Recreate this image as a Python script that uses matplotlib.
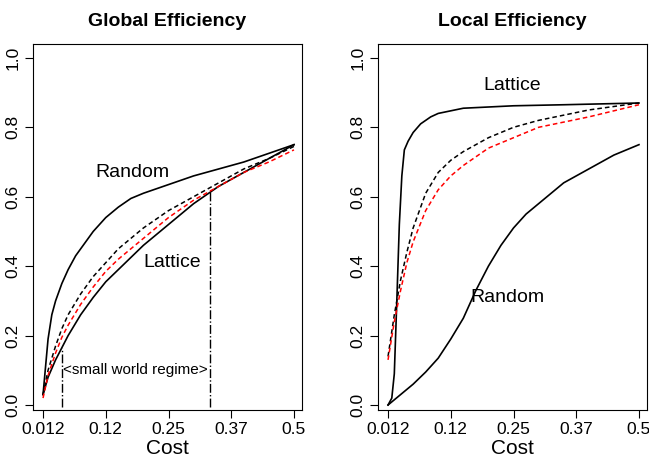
import numpy as np
import matplotlib.pyplot as plt

plt.rcParams['font.family'] = ['Liberation Sans', 'DejaVu Sans']

tick_labels = ['0.012', '0.12', '0.25', '0.37', '0.5']

# left panel: global efficiency
g_rand_x = [0, 0.01, 0.02, 0.035, 0.05, 0.075, 0.1, 0.13, 0.16, 0.2, 0.25, 0.3, 0.35, 0.4, 0.5, 0.6, 0.7, 0.8, 0.9, 1.0]
g_rand_y = [0.03, 0.11, 0.19, 0.26, 0.30, 0.35, 0.39, 0.43, 0.46, 0.50, 0.54, 0.57, 0.595, 0.61, 0.635, 0.66, 0.68, 0.70, 0.725, 0.75]
g_latt_x = [0, 0.02, 0.05, 0.075, 0.1, 0.15, 0.2, 0.25, 0.3, 0.4, 0.5, 0.6, 0.7, 0.8, 0.9, 1.0]
g_latt_y = [0.03, 0.08, 0.13, 0.165, 0.20, 0.26, 0.31, 0.355, 0.39, 0.46, 0.52, 0.58, 0.63, 0.67, 0.71, 0.75]
g_sw_x = [0, 0.02, 0.05, 0.075, 0.1, 0.15, 0.2, 0.25, 0.3, 0.4, 0.5, 0.6, 0.7, 0.8, 0.9, 1.0]
g_sw_y = [0.03, 0.10, 0.17, 0.22, 0.26, 0.32, 0.37, 0.41, 0.45, 0.51, 0.56, 0.60, 0.64, 0.68, 0.71, 0.745]
g_red_y = [0.02, 0.085, 0.15, 0.195, 0.23, 0.29, 0.34, 0.385, 0.42, 0.48, 0.54, 0.59, 0.63, 0.67, 0.70, 0.735]
sw_regime = [0.074, 0.665]

# right panel: local efficiency
l_latt_x = [0, 0.015, 0.025, 0.035, 0.045, 0.055, 0.065, 0.08, 0.1, 0.13, 0.17, 0.2, 0.3, 0.5, 0.7, 1.0]
l_latt_y = [0.0, 0.02, 0.09, 0.30, 0.52, 0.66, 0.735, 0.76, 0.785, 0.81, 0.83, 0.84, 0.855, 0.862, 0.865, 0.87]
l_rand_x = [0, 0.05, 0.1, 0.15, 0.2, 0.25, 0.3, 0.35, 0.4, 0.45, 0.5, 0.55, 0.6, 0.7, 0.8, 0.9, 1.0]
l_rand_y = [0.0, 0.03, 0.06, 0.095, 0.135, 0.19, 0.25, 0.33, 0.40, 0.46, 0.51, 0.55, 0.58, 0.64, 0.68, 0.72, 0.75]
l_sw_x = [0, 0.025, 0.05, 0.075, 0.1, 0.15, 0.2, 0.25, 0.3, 0.4, 0.5, 0.6, 0.8, 1.0]
l_sw_y = [0.14, 0.26, 0.36, 0.44, 0.51, 0.61, 0.67, 0.705, 0.73, 0.77, 0.80, 0.82, 0.85, 0.87]
l_red_y = [0.13, 0.24, 0.33, 0.41, 0.47, 0.56, 0.62, 0.66, 0.69, 0.74, 0.77, 0.80, 0.83, 0.865]


def style(ax, title):
    ax.set_xlim(-0.04, 1.032)
    ax.set_ylim(-0.0144, 1.04)
    ax.set_xticks(np.linspace(0, 1, 5))
    ax.set_xticklabels(tick_labels)
    ax.set_yticks([0, 0.2, 0.4, 0.6, 0.8, 1.0])
    ax.set_yticklabels(['0.0', '0.2', '0.4', '0.6', '0.8', '1.0'], rotation=90, va='center')
    ax.tick_params(labelsize=12.5, length=6, pad=3)
    ax.set_xlabel('Cost', fontsize=15, labelpad=1)
    ax.set_title(title, fontsize=14, fontweight='bold', pad=13)


fig = plt.figure(figsize=(6.49, 4.58), dpi=100)
ax1 = fig.add_axes([33 / 649, 1 - 410 / 458, 269 / 649, 366 / 458])
ax2 = fig.add_axes([378 / 649, 1 - 410 / 458, 269 / 649, 366 / 458])

ax1.plot(g_rand_x, g_rand_y, color='black', lw=1.2)
ax1.plot(g_latt_x, g_latt_y, color='black', lw=1.2)
ax1.plot(g_sw_x, g_sw_y, color='black', lw=1.1, ls=(0, (3, 2)))
ax1.plot(g_sw_x, g_red_y, color='red', lw=1.1, ls=(0, (3, 2)))
for xv in sw_regime:
    ax1.plot([xv, xv], [-0.005, np.interp(xv, g_latt_x, g_latt_y)], color='black', lw=1, ls='-.')
ax1.text(0.08, 0.1, '<small world regime>', fontsize=11, va='center')
ax1.text(0.21, 0.67, 'Random', fontsize=14, va='center')
ax1.text(0.4, 0.41, 'Lattice', fontsize=14, va='center')
style(ax1, 'Global Efficiency')

ax2.plot(l_latt_x, l_latt_y, color='black', lw=1.2)
ax2.plot(l_rand_x, l_rand_y, color='black', lw=1.2)
ax2.plot(l_sw_x, l_sw_y, color='black', lw=1.1, ls=(0, (3, 2)))
ax2.plot(l_sw_x, l_red_y, color='red', lw=1.1, ls=(0, (3, 2)))
ax2.text(0.38, 0.92, 'Lattice', fontsize=14, va='center')
ax2.text(0.33, 0.31, 'Random', fontsize=14, va='center')
style(ax2, 'Local Efficiency')

fig.savefig('out.png')
